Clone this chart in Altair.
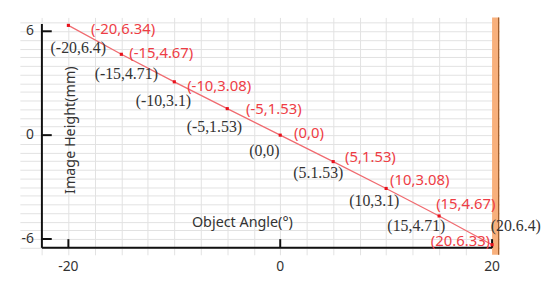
import altair as alt
import pandas as pd

# ---- data ----
angles = [-20, -15, -10, -5, 0, 5, 10, 15, 20]
image_height = [6.34, 4.67, 3.08, 1.53, 0, -1.53, -3.08, -4.67, -6.33]
red_labels = ["(-20,6.34)", "(-15,4.67)", "(-10,3.08)", "(-5,1.53)", "(0,0)",
              "(5,1.53)", "(10,3.08)", "(15,4.67)", "(20.6.33)"]
black_labels = ["(-20,6.4)", "(-15,4.71)", "(-10,3.1)", "(-5,1.53)", "(0,0)",
                "(5.1.53)", "(10,3.1)", "(15,4.71)", "(20.6.4)"]
x_ticks = [-20, 0, 20]
y_ticks = [-6, 0, 6]
x_grid = [-22.5, -20, -17.5, -15, -12.5, -10, -7.5, -5, -2.5, 0,
          2.5, 5, 7.5, 10, 12.5, 15, 17.5]
y_grid = [-6.5, -6, -5.5, -5, -4.5, -4, -3.5, -3, -2.5, -2, -1.5, -1, -0.5, 0,
          0.5, 1, 1.5, 2, 2.5, 3, 3.5, 4, 4.5, 5, 5.5, 6, 6.5]
x_title = "Object Angle(°)"
y_title = "Image Height(mm)"

# ---- layout / style ----
X_DOM = [-24.58, 20.7]
Y_DOM = [-6.91, 6.8]
X_AXIS_POS = -22.5   # where the y axis line sits
Y_AXIS_POS = -6.51   # where the x axis line sits
W, H = 485, 240

red_dx = [23, 8, 13, 19, 14, 12, 4, -3, -2]
red_dy = [4, -1, 4, 0, -2, -5, -8, -12, -4]
red_align = ["left"] * 8 + ["right"]
black_dx = [10, 5, -11, -13, -16, -15, -12, -23, 24]
black_dy = [23, 20, 19, 19, 16, 12, 13, 10, -19]

SANS = "Noto Sans"
SERIF = "Liberation Serif"
RED = "#ee3d45"
INK = "#333333"

xs = alt.Scale(domain=X_DOM, nice=False, zero=False)
ys = alt.Scale(domain=Y_DOM, nice=False, zero=False)
X_AX = alt.Axis(values=x_grid, grid=True, labels=False, ticks=False, domain=False,
                title=None, gridColor="#e2e2e2", gridWidth=1)
Y_AX = alt.Axis(values=y_grid, grid=True, labels=False, ticks=False, domain=False,
                title=None, gridColor="#e2e2e2", gridWidth=1)


def X(field):
    return alt.X(field, type="quantitative", scale=xs, axis=X_AX)


def Y(field):
    return alt.Y(field, type="quantitative", scale=ys, axis=Y_AX)


df = pd.DataFrame({"angle": angles, "h": image_height,
                   "red": red_labels, "black": black_labels})

layers = []

# grid carrier
layers.append(alt.Chart(df).mark_point(opacity=0).encode(x=X("angle"), y=Y("h")))

# orange bar on the right
bar_df = pd.DataFrame({"x1": [20.0], "x2": [20.68], "y1": [Y_DOM[1]], "y2": [Y_DOM[0]]})
layers.append(alt.Chart(bar_df).mark_rect(color="#f8b07c").encode(
    x=X("x1"), x2="x2", y=Y("y1"), y2="y2"))
edge_df = pd.DataFrame({"x": [20.62], "y1": [Y_DOM[1]], "y2": [Y_DOM[0]]})
layers.append(alt.Chart(edge_df).mark_rule(color="#9a5a2a", strokeWidth=1.2).encode(
    x=X("x"), y=Y("y1"), y2="y2"))

# axis lines
yaxis_df = pd.DataFrame({"x": [X_AXIS_POS], "y1": [6.42], "y2": [Y_AXIS_POS]})
layers.append(alt.Chart(yaxis_df).mark_rule(color="#111111", strokeWidth=2).encode(
    x=X("x"), y=Y("y1"), y2="y2"))
xaxis_df = pd.DataFrame({"x1": [X_AXIS_POS], "x2": [20.0], "y": [Y_AXIS_POS]})
layers.append(alt.Chart(xaxis_df).mark_rule(color="#111111", strokeWidth=2).encode(
    x=X("x1"), x2="x2", y=Y("y")))

# inward ticks
yt_df = pd.DataFrame({"v": y_ticks, "x1": [X_AXIS_POS] * 3, "x2": [X_AXIS_POS + 0.93] * 3,
                      "lab": [str(v) for v in y_ticks]})
layers.append(alt.Chart(yt_df).mark_rule(color="#111111", strokeWidth=2).encode(
    x=X("x1"), x2="x2", y=Y("v")))
xt_df = pd.DataFrame({"v": x_ticks, "y1": [Y_AXIS_POS] * 3, "y2": [Y_AXIS_POS + 0.5] * 3,
                      "lab": [str(v) for v in x_ticks]})
layers.append(alt.Chart(xt_df).mark_rule(color="#111111", strokeWidth=2).encode(
    x=X("v"), y=Y("y1"), y2="y2"))

# tick labels
layers.append(alt.Chart(yt_df).mark_text(align="right", baseline="middle", dx=-8,
                                         font=SANS, fontSize=14, fontWeight="normal",
                                         color=INK).encode(
    x=X("x1"), y=Y("v"), text="lab:N"))
layers.append(alt.Chart(xt_df).mark_text(align="center", baseline="middle", dy=19,
                                         font=SANS, fontSize=14, fontWeight="normal",
                                         color=INK).encode(
    x=X("v"), y=Y("y1"), text="lab:N"))

# axis titles (one row each so the text is drawn once)
layers.append(alt.Chart(pd.DataFrame({"t": [y_title]})).mark_text(
    angle=270, align="center", baseline="middle", font=SANS, fontSize=14.5,
    fontWeight="normal", color=INK).encode(
    x=alt.value(52), y=alt.value(114), text="t:N"))
layers.append(alt.Chart(pd.DataFrame({"t": [x_title]})).mark_text(
    align="center", baseline="middle", font=SANS, fontSize=14.5,
    fontWeight="normal", color=INK).encode(
    x=alt.value(225), y=alt.value(208), text="t:N"))

# red series
layers.append(alt.Chart(df).mark_line(color="#f06b70", strokeWidth=1.3).encode(
    x=X("angle"), y=Y("h")))
layers.append(alt.Chart(df).mark_square(size=10, color="#e8111b", opacity=1).encode(
    x=X("angle"), y=Y("h")))

# labels
for i in range(len(angles)):
    row = df.iloc[[i]]
    layers.append(alt.Chart(row).mark_text(align=red_align[i], baseline="middle",
                                           dx=red_dx[i], dy=red_dy[i], font=SANS,
                                           fontSize=15, fontWeight="normal",
                                           color=RED).encode(
        x=X("angle"), y=Y("h"), text="red:N"))
    layers.append(alt.Chart(row).mark_text(align="center", baseline="middle",
                                           dx=black_dx[i], dy=black_dy[i], font=SERIF,
                                           fontSize=16, color=INK).encode(
        x=X("angle"), y=Y("h"), text="black:N"))

chart = alt.layer(*layers).properties(
    width=W, height=H,
    autosize=alt.AutoSizeParams(type="none"),
    padding={"left": 12, "top": 8, "right": 43, "bottom": 24},
    background="white",
).configure_view(stroke=None)

chart.save("out.html", embed_options={"renderer": "svg", "actions": False})
